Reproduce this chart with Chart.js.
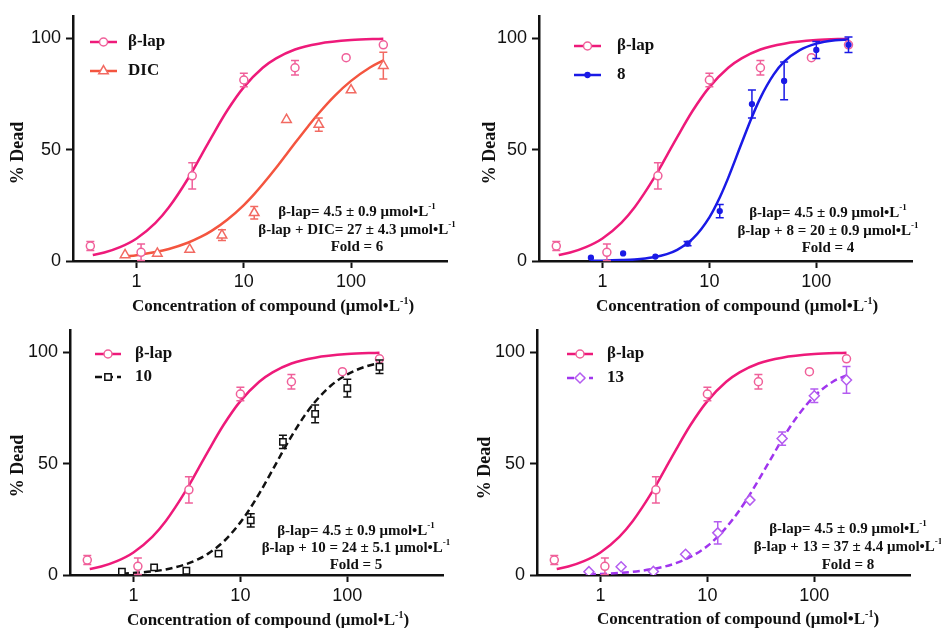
<!DOCTYPE html>
<html>
<head>
<meta charset="utf-8">
<script src="https://cdn.jsdelivr.net/npm/chart.js@4.4.0/dist/chart.umd.min.js"></script>
<style>
  body { margin: 0; background: #fff; width: 941px; height: 628px; overflow: hidden; position: relative; }
  canvas { position: absolute; }
</style>
</head>
<body>
<canvas id="c1" width="471" height="330" style="left:0;top:0"></canvas>
<canvas id="c2" width="471" height="330" style="left:470px;top:0"></canvas>
<canvas id="c3" width="471" height="330" style="left:0;top:314px"></canvas>
<canvas id="c4" width="471" height="330" style="left:470px;top:314px"></canvas>
<script>
const concLap = [0.37, 1.1, 3.3, 10, 30, 90, 200];
const deadLap = [6.7, 3.9, 38.2, 81.2, 86.7, 91.2, 97];
const errLap = [2, 3.7, 5.9, 3, 3.3, 0, 0];

const concCmp = [0.78, 1.56, 3.125, 6.25, 12.5, 25, 50, 100, 200];
const deadDIC = [2.7, 3.4, 5.2, 11.6, 21.6, 63.4, 61.2, 76.7, 87.6];
const errDIC = [0, 0, 0, 2.4, 2.8, 0, 3, 0, 6];
const dead8 = [1.5, 3.4, 2.0, 7.8, 22.4, 70.4, 80.8, 94.7, 97];
const err8 = [0, 0, 0, 1, 3, 6.3, 8.5, 3.8, 3.5];
const dead10 = [1.5, 3.4, 1.9, 9.6, 24.5, 59.7, 72.3, 83.8, 93.4];
const err10 = [0, 0, 0, 0, 3, 3, 4, 4, 3];
const dead13 = [1.5, 3.7, 1.6, 9.3, 18.9, 33.6, 61.2, 80.4, 87.5];
const err13 = [0, 0, 0, 0, 5, 0, 3, 3, 6];

// fitted curves
const fitLapX = [0.39, 0.5, 0.7, 1, 1.5, 2, 3, 4, 5, 7, 10, 15, 20, 30, 50, 100, 200];
const fitLapY = [2.7, 3.8, 6.2, 10.1, 17.1, 24.1, 36.8, 47.3, 55.6, 67.5, 78.0, 86.7, 90.9, 94.9, 97.5, 99.1, 99.7];
const fitX = [0.78, 1, 1.5, 2, 3, 4, 5, 7, 10, 12.5, 15, 20, 25, 30, 40, 50, 70, 100, 150, 200];
const fitDIC = [2.0, 2.6, 4.0, 5.4, 8.2, 10.9, 13.5, 18.5, 25.1, 30.0, 34.4, 41.8, 47.9, 52.9, 60.6, 66.3, 74.0, 80.8, 86.8, 90.0];
const fit8 = [0.1, 0.15, 0.4, 0.7, 1.7, 3.1, 5.0, 10.0, 19.6, 28.5, 37.3, 52.8, 64.6, 73.2, 83.7, 89.4, 94.6, 97.5, 99.0, 99.4];
const fit10 = [0.6, 0.9, 1.6, 2.5, 4.6, 7.0, 9.6, 15.1, 23.6, 30.3, 36.5, 47.1, 55.6, 62.2, 71.6, 77.7, 84.9, 90.0, 93.6, 95.1];
const fit13 = [0.4, 0.5, 0.9, 1.4, 2.6, 3.8, 5.2, 8.2, 13.0, 17.2, 21.3, 29.1, 36.2, 42.5, 52.8, 60.8, 71.4, 80.2, 86.8, 89.6];

const xTicks = [1, 10, 100];
const yTicks = [0, 50, 100];

const SERIF = '"Liberation Serif", "Times New Roman", serif';
const SANS = '"Liberation Sans", Arial, sans-serif';
const LAP_LINE = '#EE1A7A';
const LAP_MARK = '#F0609A';

const panels = [
  {
    id: 'c1', name: 'DIC', dead: deadDIC, err: errDIC, fit: fitDIC,
    line: '#F4553F', mark: '#F26A62', style: 'triangle', radius: 5.5, fill: '#fff', dash: [],
    box: { left: 73, right: 447, top: 12, bottom: 261 },
    legend: { x0: 90, x1: 117, tx: 128, rows: [42, 71] },
    yTitle: [18, 153], xTitle: [273, 307],
    note: { x: 357, y: [212, 230, 247], lines: ['β-lap= 4.5 ± 0.9 μmol•L⁻¹', 'β-lap + DIC= 27 ± 4.3 μmol•L⁻¹', 'Fold = 6'] }
  },
  {
    id: 'c2', name: '8', dead: dead8, err: err8, fit: fit8,
    line: '#1A1AE6', mark: '#1A1AE6', style: 'circle', radius: 2.4, fill: '#1A1AE6', dash: [],
    box: { left: 69, right: 442, top: 12, bottom: 261 },
    legend: { x0: 104, x1: 131, tx: 147, rows: [46, 75] },
    yTitle: [20, 153], xTitle: [267, 307],
    note: { x: 358, y: [213, 231, 248], lines: ['β-lap= 4.5 ± 0.9 μmol•L⁻¹', 'β-lap + 8 = 20 ± 0.9 μmol•L⁻¹', 'Fold = 4'] }
  },
  {
    id: 'c3', name: '10', dead: dead10, err: err10, fit: fit10,
    line: '#111111', mark: '#111111', style: 'rect', radius: 4.5, fill: '#fff', dash: [7, 4],
    box: { left: 70, right: 443, top: 11, bottom: 261 },
    legend: { x0: 95, x1: 121, tx: 135, rows: [40, 63] },
    yTitle: [18, 152], xTitle: [268, 307],
    note: { x: 356, y: [217, 234, 251], lines: ['β-lap= 4.5 ± 0.9 μmol•L⁻¹', 'β-lap + 10 = 24 ± 5.1 μmol•L⁻¹', 'Fold = 5'] }
  },
  {
    id: 'c4', name: '13', dead: dead13, err: err13, fit: fit13,
    line: '#A035EE', mark: '#B45CF0', style: 'rectRot', radius: 5, fill: '#fff', dash: [7, 4],
    box: { left: 67, right: 440, top: 11, bottom: 261 },
    legend: { x0: 97, x1: 123, tx: 137, rows: [40, 64] },
    yTitle: [15, 154], xTitle: [268, 306],
    note: { x: 378, y: [215, 233, 251], lines: ['β-lap= 4.5 ± 0.9 μmol•L⁻¹', 'β-lap + 13 = 37 ± 4.4 μmol•L⁻¹', 'Fold = 8'] }
  }
];

function pts(xs, ys) {
  return xs.map((x, i) => ({ x: x, y: ys[i] }));
}

// text with the "-1" exponent raised
function richText(ctx, text, x, y, size, align) {
  const f1 = 'bold ' + size + 'px ' + SERIF;
  const f2 = 'bold ' + Math.round(size * 0.6) + 'px ' + SERIF;
  const i = text.indexOf('⁻¹');
  ctx.textBaseline = 'middle';
  if (i < 0) {
    ctx.font = f1;
    ctx.textAlign = align;
    ctx.fillText(text, x, y);
    return;
  }
  const a = text.slice(0, i), b = text.slice(i + 2);
  ctx.font = f1;
  const wa = ctx.measureText(a).width, wb = ctx.measureText(b).width;
  ctx.font = f2;
  const ws = ctx.measureText('-1').width;
  const x0 = align === 'center' ? x - (wa + ws + wb) / 2 : x;
  ctx.textAlign = 'left';
  ctx.font = f1;
  ctx.fillText(a, x0, y);
  ctx.font = f2;
  ctx.fillText('-1', x0 + wa, y - size * 0.35);
  ctx.font = f1;
  ctx.fillText(b, x0 + wa + ws, y);
}

const errorBars = {
  id: 'errorBars',
  beforeDatasetDraw(chart, args) {
    const ds = chart.data.datasets[args.index];
    if (!ds.errors) return;
    const ctx = chart.ctx, xs = chart.scales.x, ys = chart.scales.y;
    ctx.save();
    ctx.strokeStyle = ds.borderColor;
    ctx.lineWidth = 1.5;
    ds.data.forEach((p, i) => {
      const e = ds.errors[i];
      if (!e) return;
      const px = xs.getPixelForValue(p.x);
      const t = ys.getPixelForValue(p.y + e), b = ys.getPixelForValue(p.y - e);
      ctx.beginPath();
      ctx.moveTo(px, t); ctx.lineTo(px, b);
      ctx.moveTo(px - 4, t); ctx.lineTo(px + 4, t);
      ctx.moveTo(px - 4, b); ctx.lineTo(px + 4, b);
      ctx.stroke();
    });
    ctx.restore();
  }
};

function textPlugin(p) {
  return {
    id: 'panelText',
    afterDraw(chart) {
      const ctx = chart.ctx;
      ctx.save();
      ctx.fillStyle = '#111';
      // legend: line with marker, then label
      chart.data.datasets.filter(d => d.legendMark).forEach((d, k) => {
        const y = p.legend.rows[k], m = d.legendMark;
        ctx.strokeStyle = d.borderColor;
        ctx.lineWidth = 2.5;
        ctx.setLineDash(d.borderDash || []);
        ctx.beginPath();
        ctx.moveTo(p.legend.x0, y);
        ctx.lineTo(p.legend.x1, y);
        ctx.stroke();
        ctx.setLineDash([]);
        ctx.strokeStyle = m.color;
        ctx.fillStyle = m.fill;
        ctx.lineWidth = 1.5;
        Chart.helpers.drawPoint(ctx, { pointStyle: m.style, radius: m.radius, rotation: 0, borderWidth: 1.5 },
          (p.legend.x0 + p.legend.x1) / 2, y);
        ctx.fillStyle = '#111';
        richText(ctx, d.label, p.legend.tx, y, 17, 'left');
      });
      // axis titles
      ctx.save();
      ctx.translate(p.yTitle[0], p.yTitle[1]);
      ctx.rotate(-Math.PI / 2);
      richText(ctx, '% Dead', 0, 0, 18, 'center');
      ctx.restore();
      richText(ctx, 'Concentration of compound (μmol•L⁻¹)', p.xTitle[0], p.xTitle[1], 17, 'center');
      // IC50 note
      p.note.lines.forEach((t, i) => richText(ctx, t, p.note.x, p.note.y[i], 15, 'center'));
      ctx.restore();
    }
  };
}

panels.forEach(p => {
  const lapMark = { style: 'circle', radius: 4, color: LAP_MARK, fill: '#fff' };
  const cmpMark = { style: p.style, radius: p.radius, color: p.mark, fill: p.fill };
  new Chart(p.id, {
    type: 'scatter',
    data: {
      datasets: [
        {
          label: 'β-lap', data: pts(fitLapX, fitLapY), showLine: true, pointRadius: 0,
          borderColor: LAP_LINE, borderWidth: 2.5, cubicInterpolationMode: 'monotone',
          legendMark: lapMark, order: 3
        },
        {
          label: p.name, data: pts(fitX, p.fit), showLine: true, pointRadius: 0,
          borderColor: p.line, borderWidth: 2.5, borderDash: p.dash, cubicInterpolationMode: 'monotone',
          legendMark: cmpMark, order: 2
        },
        {
          label: 'β-lap data', data: pts(concLap, deadLap), errors: errLap,
          pointStyle: 'circle', pointRadius: 4, borderColor: LAP_MARK, pointBorderWidth: 1.5,
          pointBackgroundColor: '#fff', order: 1
        },
        {
          label: p.name + ' data', data: pts(concCmp, p.dead), errors: p.err,
          pointStyle: p.style, pointRadius: p.radius, borderColor: p.mark, pointBorderWidth: 1.5,
          pointBackgroundColor: p.fill, order: 0
        }
      ]
    },
    options: {
      responsive: false,
      animation: false,
      layout: { padding: { left: 0, right: 471 - p.box.right, top: p.box.top, bottom: 0 } },
      plugins: { legend: { display: false }, tooltip: { enabled: false } },
      scales: {
        x: {
          type: 'logarithmic', min: 0.255, max: 785,
          afterFit: s => { s.height = 330 - p.box.bottom; },
          afterBuildTicks: s => { s.ticks = xTicks.map(v => ({ value: v })); },
          ticks: { color: '#111', font: { family: SANS, size: 18 }, padding: 3, callback: v => String(v), autoSkip: false, maxRotation: 0 },
          grid: { drawOnChartArea: false, tickLength: 7, tickWidth: 2, tickColor: '#111' },
          border: { color: '#111', width: 2.5 }
        },
        y: {
          min: 0, max: 110,
          afterFit: s => { s.width = p.box.left; },
          afterBuildTicks: s => { s.ticks = yTicks.map(v => ({ value: v })); },
          ticks: { color: '#111', font: { family: SANS, size: 18 }, padding: 5 },
          grid: { drawOnChartArea: false, tickLength: 7, tickWidth: 2, tickColor: '#111' },
          border: { color: '#111', width: 2.5 }
        }
      }
    },
    plugins: [errorBars, textPlugin(p)]
  });
});
</script>
</body>
</html>
